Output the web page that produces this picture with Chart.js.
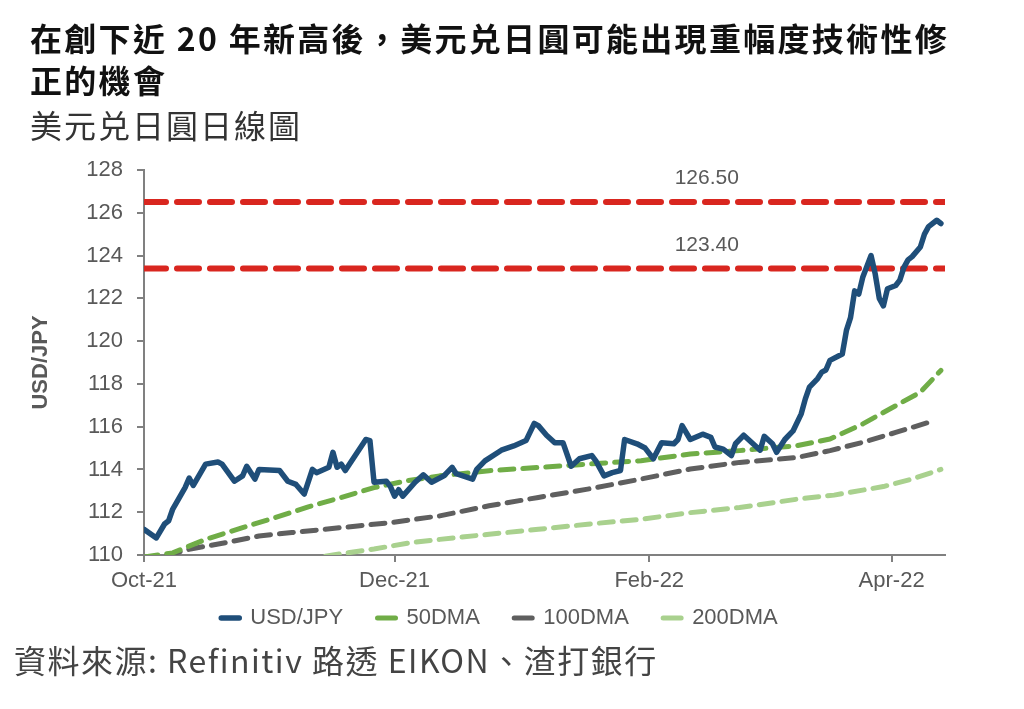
<!DOCTYPE html>
<html>
<head>
<meta charset="utf-8">
<script src="https://cdn.jsdelivr.net/npm/chart.js@4"></script>
<style>
  html, body { margin: 0; padding: 0; background: #fff; }
  #page { position: relative; width: 1024px; height: 709px; overflow: hidden; }
  #title { position: absolute; left: 30px; top: 16px; font: bold 32px/42px "Noto Sans CJK TC", sans-serif; color: #111; letter-spacing: 2.3px; }
  #subtitle { position: absolute; left: 30px; top: 104px; font: 32px/40px "Noto Sans CJK TC", sans-serif; color: #333; letter-spacing: 2px; }
  #source { position: absolute; left: 14px; top: 639px; font: 32px/40px "Noto Sans CJK TC", sans-serif; color: #444; letter-spacing: 1.5px; }
  #wrap { position: absolute; left: 0; top: 0; width: 1024px; height: 709px; }
</style>
</head>
<body>
<div id="page">
  <div id="wrap"><canvas id="chart"></canvas></div>
  <div id="title">在創下近 20 年新高後，美元兑日圓可能出現重幅度技術性修<br>正的機會</div>
  <div id="subtitle">美元兑日圓日線圖</div>
  <div id="source">資料來源: Refinitiv 路透 EIKON、渣打銀行</div>
</div>
<script>
// x values are days counted from 2021-10-01
const tickDays = [0, 61, 123, 182];
const tickLabels = ['Oct-21', 'Dec-21', 'Feb-22', 'Apr-22'];

const usdDays = [0, 3, 5, 6, 7, 10, 11, 12, 15, 18, 19, 22, 24, 25, 27, 28, 33, 35, 37, 39,
  41, 42, 45, 46, 47, 48, 49, 54, 55, 56, 59, 60, 61, 62, 63, 66, 68, 70, 73, 75,
  76, 80, 81, 83, 87, 90, 93, 95, 96, 98, 100, 102, 104, 106, 109, 110, 112, 114, 116, 117,
  120, 122, 124, 126, 129, 130, 131, 133, 136, 138, 139, 141, 143, 144, 146, 148, 150, 151, 153, 154,
  156, 158, 160, 161, 162, 164, 165, 166, 167, 170, 171, 172, 173, 174, 175, 177, 178, 179, 180, 181,
  183, 184, 185, 186, 187, 189, 190, 191, 193, 194];
const usdJpy = [111.2, 110.8, 111.45, 111.6, 112.15, 113.15, 113.6, 113.25, 114.25, 114.35, 114.25, 113.45, 113.7, 114.15, 113.55, 114.0, 113.95, 113.45, 113.3, 112.85,
  114.0, 113.85, 114.1, 114.8, 114.1, 114.25, 113.95, 115.4, 115.35, 113.4, 113.45, 113.2, 112.75, 113.05, 112.75, 113.4, 113.75, 113.4, 113.7, 114.1,
  113.8, 113.55, 114.0, 114.4, 114.9, 115.1, 115.35, 116.15, 116.05, 115.6, 115.25, 115.25, 114.15, 114.5, 114.65, 114.4, 113.7, 113.85, 113.95, 115.4,
  115.2, 115.0, 114.5, 115.25, 115.2, 115.4, 116.05, 115.4, 115.65, 115.5, 115.05, 114.95, 114.65, 115.2, 115.6, 115.25, 114.9, 115.55, 115.2, 114.8,
  115.4, 115.8, 116.6, 117.3, 117.85, 118.25, 118.55, 118.65, 119.1, 119.4, 120.5, 121.1, 122.35, 122.2, 123.0, 124.0, 123.15, 122.0, 121.65, 122.45,
  122.6, 122.85, 123.45, 123.8, 123.95, 124.4, 125.0, 125.35, 125.65, 125.5];

const ma50Days = [0, 7, 15, 24, 32, 40, 48, 56, 64, 72, 84, 96, 108, 121, 133, 145, 159, 167, 175, 183, 189, 194];
const ma50 = [109.9, 110.1, 110.73, 111.28, 111.75, 112.25, 112.69, 113.15, 113.47, 113.7, 113.94, 114.09, 114.25, 114.41, 114.72, 114.88, 115.11, 115.42, 116.13, 116.98, 117.61, 118.63];

const ma100Days = [0, 4, 11, 20, 28, 36, 44, 52, 60, 72, 84, 96, 108, 121, 133, 145, 159, 167, 175, 183, 191];
const ma100 = [109.8, 109.9, 110.27, 110.58, 110.89, 111.05, 111.2, 111.36, 111.51, 111.83, 112.3, 112.69, 113.08, 113.55, 114.02, 114.33, 114.56, 114.88, 115.27, 115.73, 116.2];

const ma200Days = [0, 46, 56, 65, 72, 84, 96, 108, 121, 133, 145, 159, 168, 180, 187, 194];
const ma200 = [108.5, 110.0, 110.28, 110.58, 110.73, 110.97, 111.2, 111.44, 111.67, 111.98, 112.22, 112.61, 112.8, 113.2, 113.55, 114.0];

const levels = [126.5, 123.4];
const levelText = ['126.50', '123.40'];
const labelDay = 137;

const xMin = 0, xMax = 195;
const axisFont = '"Liberation Sans", Arial, sans-serif';

function pts(days, vals) {
  return days.map((d, i) => ({ x: d, y: vals[i] }));
}

const levelLabels = {
  id: 'levelLabels',
  afterLayout(chart) {
    // centre the legend row under the page rather than under the plot box
    chart.legend.left += 27;
    chart.legend.right += 27;
  },
  afterDatasetsDraw(chart) {
    const { ctx, scales: { x, y } } = chart;
    ctx.save();
    ctx.font = '21px ' + axisFont;
    ctx.fillStyle = '#595959';
    ctx.textAlign = 'center';
    ctx.textBaseline = 'bottom';
    levels.forEach((lv, i) => {
      ctx.fillText(levelText[i], x.getPixelForValue(labelDay), y.getPixelForValue(lv) - 13);
    });
    ctx.restore();
  }
};

const datasets = [
  { label: 'USD/JPY', data: pts(usdDays, usdJpy), borderColor: '#1F4E79', borderWidth: 5.5 },
  { label: '50DMA', data: pts(ma50Days, ma50), borderColor: '#70AD47', borderWidth: 5, borderDash: [14, 9] },
  { label: '100DMA', data: pts(ma100Days, ma100), borderColor: '#5F5F5F', borderWidth: 5, borderDash: [14, 9] },
  { label: '200DMA', data: pts(ma200Days, ma200), borderColor: '#A9D18E', borderWidth: 5, borderDash: [14, 9] }
];
levels.forEach(lv => {
  datasets.push({ label: 'level', data: [{ x: xMin, y: lv }, { x: xMax, y: lv }], borderColor: '#D9261F', borderWidth: 6, borderDash: [22, 11] });
});

new Chart(document.getElementById('chart').getContext('2d'), {
  type: 'line',
  data: { datasets: datasets },
  options: {
    responsive: true,
    maintainAspectRatio: false,
    animation: false,
    elements: { point: { radius: 0 }, line: { tension: 0, borderCapStyle: 'round', borderJoinStyle: 'round' } },
    layout: { padding: { top: 170, right: 79, bottom: 70, left: 0 } },
    plugins: {
      tooltip: { enabled: false },
      legend: {
        position: 'bottom',
        labels: {
          font: { family: axisFont, size: 22 },
          color: '#595959',
          usePointStyle: true,
          pointStyle: 'line',
          pointStyleWidth: 18,
          padding: 16,
          filter: item => item.text !== 'level',
          generateLabels(chart) {
            // extra trailing spaces widen the gaps between legend entries
            return Chart.defaults.plugins.legend.labels.generateLabels(chart).map((it, i) =>
              Object.assign(it, { lineDash: [], lineCap: 'round', text: i < 3 ? it.text + '   ' : it.text }));
          }
        }
      }
    },
    scales: {
      x: {
        type: 'linear',
        min: xMin,
        max: xMax,
        afterBuildTicks: axis => { axis.ticks = tickDays.map(v => ({ value: v })); },
        afterFit: axis => { axis.height = 36; },
        ticks: {
          autoSkip: false,
          maxRotation: 0,
          font: { family: axisFont, size: 22 },
          color: '#595959',
          padding: 6,
          callback: v => tickLabels[tickDays.indexOf(v)]
        },
        grid: { drawOnChartArea: false, tickLength: 7, color: '#808080', lineWidth: 2 },
        border: { color: '#808080', width: 2 }
      },
      y: {
        min: 110,
        max: 128,
        afterFit: axis => { axis.width = 144; },
        ticks: { stepSize: 2, font: { family: axisFont, size: 22 }, color: '#595959', padding: 14 },
        grid: { drawOnChartArea: false, tickLength: 7, color: '#808080', lineWidth: 2 },
        border: { color: '#808080', width: 2 },
        title: { display: true, text: 'USD/JPY', font: { family: axisFont, size: 22, weight: 'bold' }, color: '#595959', padding: { top: 28, bottom: 0 } }
      }
    }
  },
  plugins: [levelLabels]
});
</script>
</body>
</html>
